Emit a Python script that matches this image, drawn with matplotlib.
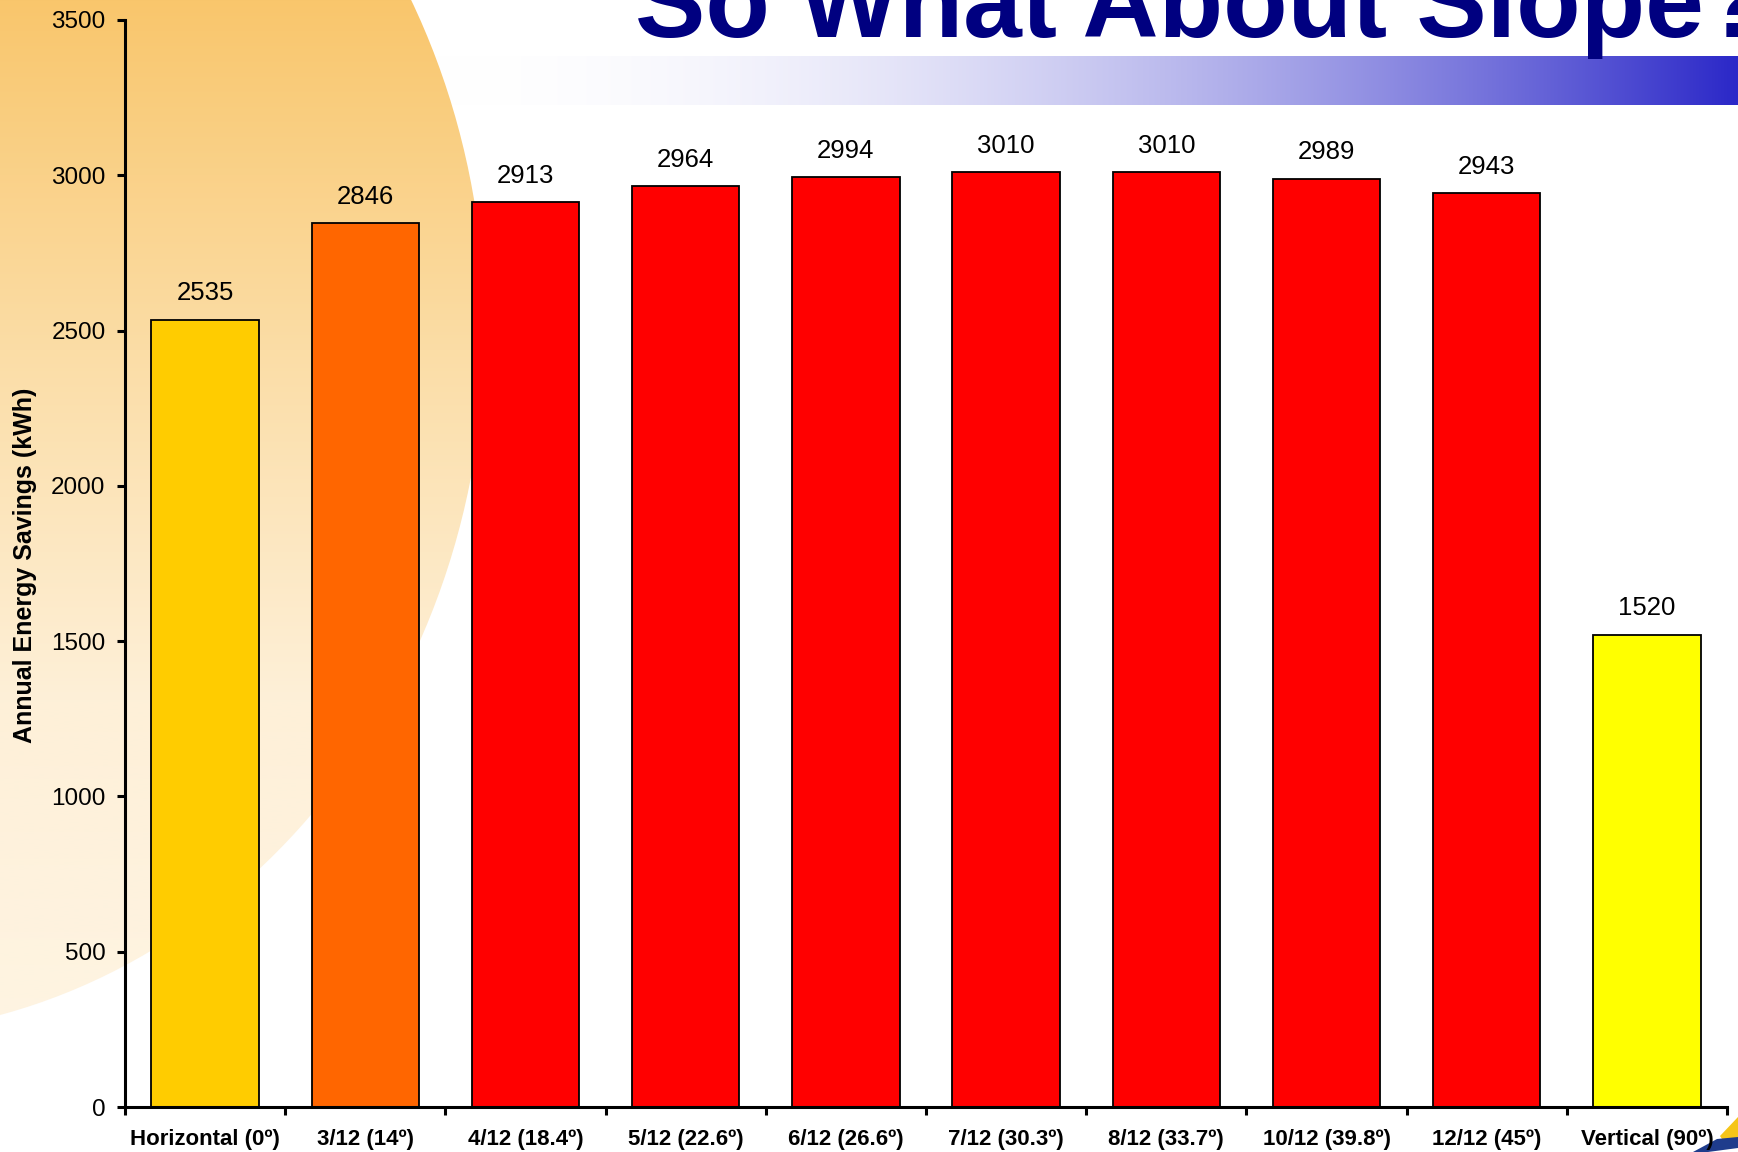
#!/usr/bin/env python3
"""Bar chart: annual energy savings by roof slope"""

import numpy as np
import matplotlib; matplotlib.use('Agg')
import matplotlib.pyplot as plt
from matplotlib.patches import Ellipse, Polygon

plt.rcParams['font.family'] = ['Liberation Sans', 'DejaVu Sans']

##########################################################
title = 'So What About Slope?'
ylabel = 'Annual Energy Savings (kWh)'
categories = ['Horizontal (0º)', '3/12 (14º)', '4/12 (18.4º)', '5/12 (22.6º)',
              '6/12 (26.6º)', '7/12 (30.3º)', '8/12 (33.7º)', '10/12 (39.8º)',
              '12/12 (45º)', 'Vertical (90º)']
savings = [2535, 2846, 2913, 2964, 2994, 3010, 3010, 2989, 2943, 1520]
bar_colors = ['#FFCC00', '#FF6600', '#FF0000', '#FF0000', '#FF0000',
              '#FF0000', '#FF0000', '#FF0000', '#FF0000', '#FFFF00']
yticks = [0, 500, 1000, 1500, 2000, 2500, 3000, 3500]

W, H = 1738, 1152

##########################################################
def draw_background(fig):
    """Slide decoration: title bar, sun disc, corner logo"""
    bg = fig.add_axes([0, 0, 1, 1], zorder=0)
    bg.set_xlim(0, W); bg.set_ylim(H, 0); bg.axis('off')

    # title underline band, white to blue (under the disc)
    t = np.linspace(0, 1, 400) ** 2
    c0 = np.array([255, 255, 255]) / 255.
    c1 = np.array([43, 40, 200]) / 255.
    band = c0[None, :] + t[:, None] * (c1 - c0)[None, :]
    bg.imshow(band[None, :, :], extent=(430, W, 105, 56), aspect='auto',
              origin='upper', interpolation='bilinear', zorder=1)

    # sun disc with vertical gradient
    cx, cy, a, b = -150, 330, 635, 705
    ys = np.linspace(cy - b, cy + b, 400)
    stops_y = [-400, 0, 350, 700, 1100]
    stops_c = np.array([[247, 190, 90], [249, 198, 108], [251, 221, 166],
                        [254, 240, 216], [254, 245, 228]]) / 255.
    grad = np.stack([np.interp(ys, stops_y, stops_c[:, k]) for k in range(3)], axis=1)
    img = bg.imshow(grad[:, None, :], extent=(cx - a, cx + a, cy + b, cy - b),
                    aspect='auto', origin='upper', interpolation='bilinear', zorder=2)
    disc = Ellipse((cx, cy), 2 * a, 2 * b, transform=bg.transData,
                   facecolor='none', edgecolor='none')
    bg.add_patch(disc)
    img.set_clip_path(disc)
    bg.set_xlim(0, W); bg.set_ylim(H, 0)

    # corner logo fragment
    bg.add_patch(Polygon([(1720, 1136), (1738, 1117), (1738, 1140), (1724, 1142)],
                         facecolor='#F5C518', edgecolor='none', zorder=3))
    bg.add_patch(Polygon([(1693, 1152), (1717, 1139), (1738, 1137), (1738, 1148), (1708, 1152)],
                         facecolor='#1F3C8C', edgecolor='none', zorder=3))

##########################################################
def main():
    fig = plt.figure(figsize=(W / 100, H / 100), dpi=100)
    draw_background(fig)

    fig.text(635 / W, 1 - 37 / H, title, fontsize=76, fontweight='bold',
             color='#000080', va='baseline', ha='left', zorder=3)

    ax = fig.add_axes([125 / W, 1 - 1107 / H, (1727 - 125) / W, (1107 - 20) / H], zorder=2)
    ax.set_facecolor('none')

    x = np.arange(len(categories))
    bars = ax.bar(x, savings, width=0.67, color=bar_colors, edgecolor='black', linewidth=1.3)
    for b, v in zip(bars, savings):
        ax.annotate('{}'.format(v), (b.get_x() + b.get_width() / 2, v), xytext=(0, 14),
                    textcoords='offset points', ha='center', va='baseline', fontsize=18.5)

    ax.set_xlim(-0.5, len(categories) - 0.5)
    ax.set_ylim(0, 3500)
    ax.set_yticks(yticks)
    ax.tick_params(axis='y', direction='out', length=6, width=2.2, labelsize=17.5, pad=8)

    ax.set_xticks(np.arange(len(categories) + 1) - 0.5)
    ax.set_xticklabels([])
    ax.tick_params(axis='x', which='major', direction='out', length=6, width=2.2)
    ax.set_xticks(x, categories, minor=True)
    ax.tick_params(axis='x', which='minor', length=0, pad=16, labelsize=16)
    for lbl in ax.get_xticklabels(minor=True):
        lbl.set_fontweight('bold')

    ax.set_ylabel(ylabel, fontsize=18, fontweight='bold')
    ax.yaxis.set_label_coords((37 - 125) / (1727 - 125), (1107 - 565) / (1107 - 20))

    for s in ['top', 'right']:
        ax.spines[s].set_visible(False)
    for s in ['left', 'bottom']:
        ax.spines[s].set_linewidth(2.2)

    plt.savefig('out.png', dpi=100)

##########################################################
if __name__ == "__main__":
    main()
